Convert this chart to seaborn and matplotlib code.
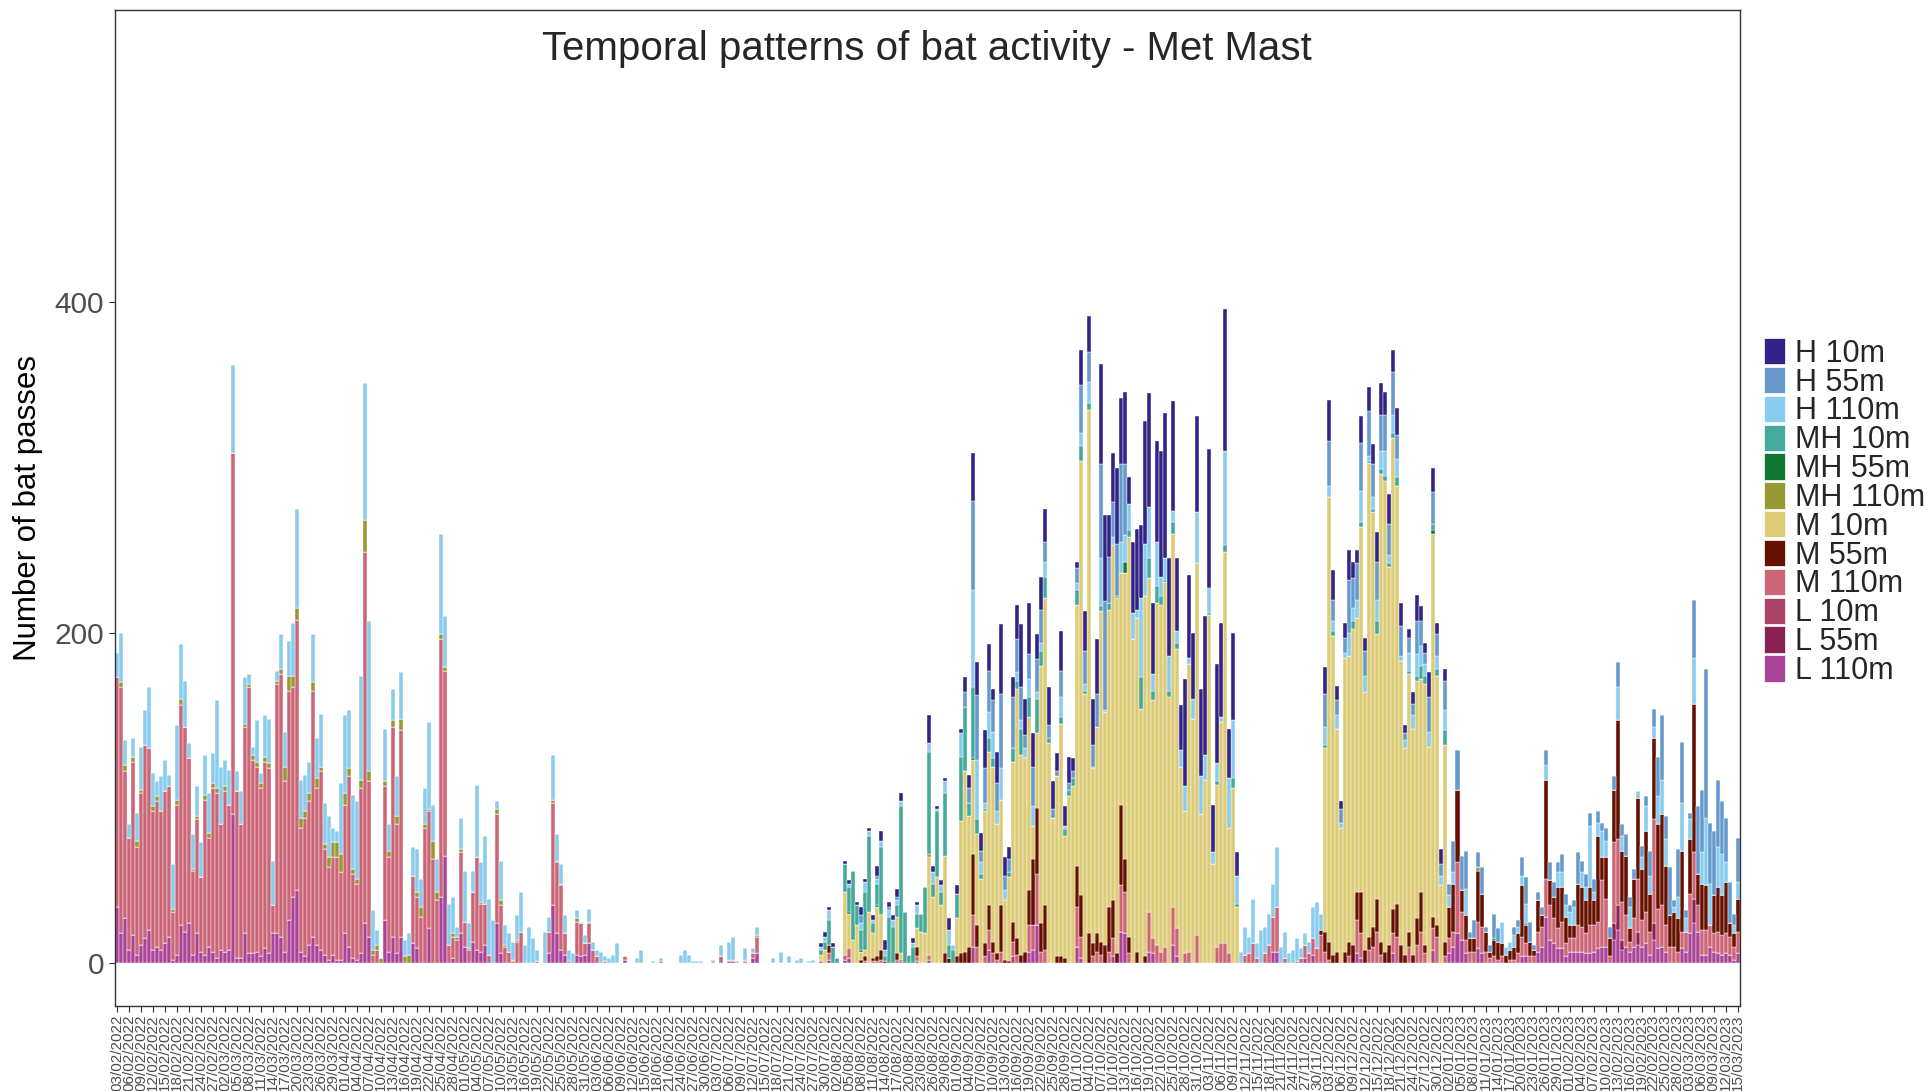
import numpy as np
import pandas as pd
import matplotlib
matplotlib.use("Agg")
import matplotlib.pyplot as plt
from matplotlib.patches import Patch
import seaborn as sns

# one bar per night, 03/02/2022 .. 15/03/2023
start_date = "2022-02-03"
n_days = 406
dates = pd.date_range(start_date, periods=n_days).strftime("%d/%m/%Y")
tick_days = list(range(0, n_days, 3))
tick_labels = [dates[d] for d in tick_days]

groups = ["H 10m", "H 55m", "H 110m", "MH 10m", "MH 55m", "MH 110m",
          "M 10m", "M 55m", "M 110m", "L 10m", "L 55m", "L 110m"]
colours = ["#332288", "#6699CC", "#88CCEE", "#44AA99", "#117733", "#999933",
           "#DDCC77", "#661100", "#CC6677", "#AA4466", "#882255", "#AA4499"]

# ---- Feb - Jul 2022, days 0..175 ----
spring_h110 = """
15 30 15 8 11 17 26 21 37 20
9 21 19 7 27 45 33 28 9 21
18 21 24 24 18 53 35 16 21 53
12 20 28 6 5 25 6 25 27 27
6 21 21 21 32 60 23 22 19 29
24 32 25 25 9 7 43 47 35 45
47 63 83 91 24 9 0 32 16 19
24 28 10 13 17 26 17 22 53 22
20 61 31 25 22 6 19 31 15 13
44 24 41 34 26 5 24 12 11 11
15 24 11 22 15 7 0 19 9 27
16 12 11 7 6 5 1 5 8 5
4 7 3 3 5 12 0 0 0 0
3 8 0 0 1 0 2 0 0 0
0 5 8 5 1 1 1 0 0 2
0 7 0 11 14 1 0 7 0 3
5 0 0 0 3 0 7 0 4 0
2 3 0 1 2 0
"""
spring_mh110 = """
0 3 4 0 3 4 2 0 0 3
3 0 0 0 2 3 4 0 0 1
2 0 3 3 3 3 0 3 0 0
0 0 2 2 3 3 3 3 3 0
2 3 9 9 7 7 6 4 5 5
6 3 3 6 9 9 11 7 5 3
3 5 19 6 3 3 3 3 4 4
5 7 4 5 0 3 6 2 1 11
5 3 2 0 2 2 2 0 1 0
0 1 0 0 0 3 3 1 0 1
1 0 0 0 0 0 0 0 0 2
1 1 0 1 0 2 0 0 1 0
0 0 0 0 0 0 0 0 0 0
0 0 0 0 0 0 1 0 0 0
0 0 0 0 0 0 0 0 0 0
0 0 0 0 0 0 0 1 0 0
1 0 0 0 0 0 0 0 0 0
0 0 0 0 0 0
"""
spring_m110 = """
139 149 89 68 105 65 92 117 110 84
88 84 92 91 29 91 133 124 100 51
69 45 94 66 99 100 76 97 88 219
101 81 125 161 117 112 102 113 112 17
151 159 103 139 127 164 75 84 87 149
95 108 64 56 59 62 53 78 103 51
46 100 225 94 5 8 0 81 57 127
78 125 0 0 41 31 28 82 71 63
38 156 112 11 13 14 49 15 8 30
56 29 25 5 0 66 29 10 7 1
13 19 0 0 0 1 0 0 13 62
43 39 13 0 0 20 20 7 12 8
4 0 1 0 0 0 0 2 0 0
0 0 0 0 0 0 0 0 0 0
0 0 0 0 0 0 0 0 0 0
0 4 0 1 1 0 0 1 0 3
10 0 0 0 0 0 0 0 0 0
0 0 0 0 0 0
"""
spring_l110 = """
34 18 27 8 17 5 11 15 20 8
10 8 12 16 2 5 23 19 24 5
18 7 5 10 7 3 8 7 8 90
3 3 18 6 6 7 4 9 6 18
18 16 7 26 40 44 7 4 11 16
11 8 5 2 5 2 2 18 10 3
2 6 24 16 0 0 0 26 7 16
6 16 0 0 12 9 0 0 21 0
0 40 65 0 3 0 18 10 0 13
8 7 11 0 0 24 6 0 0 0
0 0 0 0 0 0 0 0 6 35
18 8 5 0 0 5 4 5 12 0
0 0 0 0 0 0 0 2 0 0
0 0 0 0 0 0 0 0 0 0
0 0 0 0 0 0 0 0 0 0
0 0 0 1 1 0 0 0 0 3
6 0 0 0 0 0 0 0 0 0
0 0 0 0 0 0
"""

# ---- Aug 2022 - Mar 2023, starting day 176 (30/07/2022) ----
autumn_start = 176
autumn_h10 = """
2 3 2 2 0 0 2 2 0 2
5 2 2 3 6 6 6 3 3 5
5 0 0 3 2 0 0 17 4 2
3 2 7 0 5 3 9 8 29 20
11 23 16 7 19 42 11 7 12 21
38 22 31 20 15 20 20 23 17 11
24 12 16 8 4 21 24 22 28 33
61 52 25 30 46 40 44 16 43 49
44 74 69 43 61 76 88 59 66 44
27 65 50 40 58 53 84 84 29 60
57 86 30 53 14 0 0 0 0 0
0 0 0 0 0 0 0 0 0 0
0 0 0 0 0 0 16 25 18 9
5 9 18 10 8 16 8 15 12 18
19 14 18 13 16 14 5 5 7 16
9 6 15 15 7 9 7 0 0 0
"""
autumn_h55 = """
0 0 0 0 0 0 0 0 0 0
5 0 0 0 2 0 0 2 0 2
0 0 0 0 0 0 0 0 0 0
0 0 0 0 0 0 9 9 54 39
7 21 25 19 17 45 9 8 31 20
20 8 15 24 20 20 12 8 5 3
16 0 4 4 9 29 20 18 13 20
57 66 28 21 32 47 43 0 0 0
0 0 0 0 0 0 0 0 0 0
0 0 0 0 0 0 0 0 0 0
0 0 0 0 0 0 0 0 0 0
0 0 0 0 0 0 0 0 0 0
0 0 0 0 0 0 20 27 13 9
8 9 32 18 22 29 15 27 20 23
22 22 19 26 15 18 4 9 7 20
15 7 21 19 13 7 18 7 19 24
21 23 4 11 9 16 3 4 15 8
0 0 0 5 4 11 16 12 3 5
5 9 11 9 6 11 7 4 4 19
7 8 8 8 7 5 8 7 8 15
7 13 6 6 0 7 6 15 11 24
39 14 29 4 29 37 5 4 35 41
38 90 37 39 41 32 27 25 7 27
"""
autumn_h110 = """
2 3 6 0 0 0 0 2 0 0
4 6 3 2 3 4 4 4 4 3
3 0 0 2 5 0 0 5 7 1
4 7 9 3 0 14 0 0 59 36
7 4 16 16 8 19 5 0 0 5
5 5 11 12 4 5 9 0 0 0
12 2 0 0 4 8 4 13 0 0
29 1 0 4 0 19 16 16 16 5
48 32 31 10 27 12 13 21 7 7
10 15 4 12 31 23 15 15 7 11
3 57 30 35 17 7 17 10 27 9
20 16 19 20 36 10 16 6 8 14
6 7 7 19 28 10 11 7 6 8
3 3 14 8 11 19 10 3 7 13
11 15 5 11 11 3 5 11 8 13
12 7 9 0 8 6 12 7 7 0
0 16 0 0 0 0 0 0 0 0
13 5 5 7 4 6 12 0 0 0
0 9 0 0 9 9 7 8 11 0
9 8 37 5 8 16 10 0 0 20
9 0 13 0 4 7 15 11 7 17
21 16 0 3 13 29 8 12 28 0
19 41 25 0 24 25 12 0 5 10
"""
autumn_mh10 = """
3 5 15 10 3 0 17 15 42 12
12 35 46 6 13 40 3 28 22 7
89 31 5 10 9 11 28 62 8 40
8 38 8 8 15 39 39 8 43 9
3 1 8 5 0 0 1 3 8 5
16 1 12 0 21 9 13 3 0 0
4 4 4 5 9 9 2 4 1 0
3 0 4 1 1 0 0 4 0 0
19 0 12 6 10 5 1 4 7 4
0 0 0 0 0 0 0 1 0 2
0 4 0 6 2 0 0 0 0 0
0 0 0 0 0 0 0 0 0 0
0 0 0 0 0 0 2 0 3 0
0 0 0 5 0 3 0 1 2 8
3 3 2 3 5 0 0 2 0 3
8 5 0 4 4 0 9 0 0 0
0 0 0 0 0 0 0 0 0 0
0 0 0 0 0 0 1 0 0 0
"""
autumn_m10 = """
3 8 0 0 0 0 38 21 14 23
5 4 31 15 30 21 0 0 0 22
4 0 0 0 11 19 18 59 40 52
35 59 0 0 23 80 109 79 57 55
51 80 93 106 78 64 36 51 97 151
121 117 105 20 45 156 186 133 88 109
141 74 101 107 158 263 163 317 106 125
200 141 180 215 215 140 173 242 196 202
154 218 202 144 207 210 221 161 226 169
119 86 174 148 225 90 111 211 60 98
134 237 76 106 34 0 0 0 0 0
0 0 0 0 0 0 0 0 0 0
0 0 0 0 0 0 111 269 193 135
82 178 173 191 166 221 156 287 251 160
283 285 229 285 253 172 125 156 137 144
129 158 131 232 151 47 119 0 0 0
"""
autumn_m55 = """
0 0 5 0 0 0 0 0 0 0
2 3 0 2 3 6 1 0 0 4
1 0 0 0 6 0 0 0 0 0
0 6 3 0 4 6 7 10 37 13
0 8 15 7 4 28 2 1 12 10
5 7 21 40 40 17 27 0 0 4
4 3 0 0 25 25 0 18 8 11
8 11 27 23 6 49 20 10 0 7
0 4 0 0 0 0 0 0 0 0
0 0 0 0 0 0 0 0 0 0
0 0 0 0 0 0 0 0 0 0
0 0 0 0 0 0 0 0 0 0
0 0 0 0 0 3 12 11 5 7
0 7 9 11 17 25 8 8 12 20
8 7 11 15 20 11 5 9 5 16
24 5 0 7 7 0 9 19 29 44
13 15 8 8 31 20 12 4 10 11
8 5 6 8 12 31 11 9 4 19
7 60 15 13 25 21 16 8 8 25
24 20 23 15 52 14 25 11 32 72
31 36 8 24 49 31 49 23 49 51
55 36 19 21 20 49 0 33 90 19
28 27 0 23 27 24 31 8 8 20
"""
autumn_m110 = """
1 0 4 0 0 0 3 6 0 0
0 1 0 1 1 2 0 0 0 2
1 0 0 0 3 0 0 3 0 0
0 0 0 0 0 0 0 0 19 10
0 4 12 6 2 7 0 0 9 5
0 0 16 15 31 7 8 0 0 0
0 0 0 0 24 13 0 0 4 7
5 0 7 11 0 28 25 6 0 0
0 0 24 9 11 7 10 0 23 17
0 6 7 0 17 0 0 0 0 10
12 12 6 0 0 0 5 6 12 3
0 6 11 21 27 0 3 0 0 1
3 8 6 10 9 17 7 2 0 0
0 0 4 0 20 15 0 8 10 19
5 0 0 12 16 0 0 10 0 11
19 6 0 13 16 0 4 9 9 43
17 8 7 7 16 16 7 3 4 2
4 0 2 2 6 12 8 4 4 12
12 23 21 15 12 16 8 8 8 16
15 12 17 16 16 40 29 4 49 40
23 19 6 17 32 16 19 14 63 24
25 16 10 10 7 10 12 24 28 16
15 15 13 11 13 12 12 11 8 13
"""
autumn_l110 = """
1 0 2 0 0 0 2 3 0 0
0 0 0 0 0 0 0 0 0 0
0 0 0 0 1 0 0 2 0 0
0 0 0 0 0 0 0 0 10 0
0 0 8 0 0 0 0 0 4 0
0 0 7 8 23 0 0 0 0 0
0 0 0 0 10 3 0 0 0 0
0 0 0 4 0 19 18 0 0 0
0 0 7 6 0 0 0 0 11 4
0 0 0 0 0 0 0 0 0 0
0 0 0 0 0 0 0 0 0 0
0 0 0 7 7 0 0 0 0 0
0 3 0 5 0 0 0 0 0 0
0 0 0 0 6 3 0 0 0 0
0 0 0 6 0 0 0 0 0 0
0 0 0 8 0 0 0 6 10 18
14 6 0 0 9 6 0 0 0 0
0 0 0 0 0 4 4 0 0 7
10 28 14 12 9 9 4 7 7 7
7 6 6 7 9 10 10 0 14 20
8 10 7 10 11 10 12 5 14 9
10 7 0 0 0 9 7 18 24 19
5 5 10 7 6 5 6 5 2 6
"""
# the rare ones, {day: passes}
mh55_days = {183: 1, 186: 1, 190: 1, 191: 1, 214: 1, 252: 7, 329: 2, 344: 1}
mh110_late = {203: 2, 340: 2}
l55_days = {374: 10, 375: 15, 376: 6, 380: 8, 384: 10, 394: 15}
l10_days = {}


def nums(text):
    return [int(v) for v in text.split()]


def put(arr, start, text):
    vals = nums(text)
    arr[start:start + len(vals)] = vals


passes = {g: np.zeros(n_days) for g in groups}
put(passes["H 110m"], 0, spring_h110)
put(passes["MH 110m"], 0, spring_mh110)
put(passes["M 110m"], 0, spring_m110)
put(passes["L 110m"], 0, spring_l110)
put(passes["H 10m"], autumn_start, autumn_h10)
put(passes["H 55m"], autumn_start, autumn_h55)
put(passes["H 110m"], autumn_start, autumn_h110)
put(passes["MH 10m"], autumn_start, autumn_mh10)
put(passes["M 10m"], autumn_start, autumn_m10)
put(passes["M 55m"], autumn_start, autumn_m55)
put(passes["M 110m"], autumn_start, autumn_m110)
put(passes["L 110m"], autumn_start, autumn_l110)
for name, d in [("MH 55m", mh55_days), ("MH 110m", mh110_late),
                ("L 55m", l55_days), ("L 10m", l10_days)]:
    for day, v in d.items():
        passes[name][day] = v

df = pd.concat([pd.DataFrame({"day": np.arange(n_days), "group": g,
                              "passes": passes[g]}) for g in groups],
               ignore_index=True)

sns.set_theme(style="white")
plt.rcParams["font.family"] = ["Liberation Sans", "DejaVu Sans"]

fig, ax = plt.subplots(figsize=(19.31, 10.91), dpi=100)
fig.subplots_adjust(left=0.0593, right=0.9011, top=0.9908, bottom=0.0779)

sns.histplot(data=df, x="day", weights="passes", hue="group", hue_order=groups,
             palette=dict(zip(groups, colours)), multiple="stack", discrete=True,
             shrink=1.0, edgecolor="white", linewidth=0.3, alpha=1,
             legend=False, ax=ax)

ax.set_xlim(-0.6, n_days - 0.4)
ax.set_ylim(-26, 577)
ax.set_yticks([0, 200, 400])
ax.set_yticklabels(["0", "200", "400"], fontsize=21.5, color="#4D4D4D")
ax.set_xticks(tick_days)
ax.set_xticklabels(tick_labels, rotation=90, fontsize=11, color="#4D4D4D")
ax.tick_params(axis="both", which="both", direction="out", length=4, width=0.8,
               color="#333333", bottom=True, left=True)
ax.tick_params(axis="x", pad=2)
ax.set_xlabel("")
ax.set_ylabel("Number of bat passes", fontsize=22.5, color="black")
ax.yaxis.set_label_coords(-0.044, 0.5)
for s in ax.spines.values():
    s.set_color("#333333")
    s.set_linewidth(1.0)

ax.text(0.5, 0.961, "Temporal patterns of bat activity - Met Mast",
        transform=ax.transAxes, ha="center", va="center", fontsize=29)

handles = [Patch(facecolor=c, edgecolor="white", linewidth=0.5) for c in colours]
fig.legend(handles, groups, loc="upper left",
           bbox_to_anchor=(1764 / 1931, 1 - 338 / 1091), frameon=False,
           fontsize=22, handlelength=0.7, handleheight=0.95, labelspacing=-0.06,
           handletextpad=0.3, borderpad=0, borderaxespad=0)

fig.savefig("out.png", dpi=100)
